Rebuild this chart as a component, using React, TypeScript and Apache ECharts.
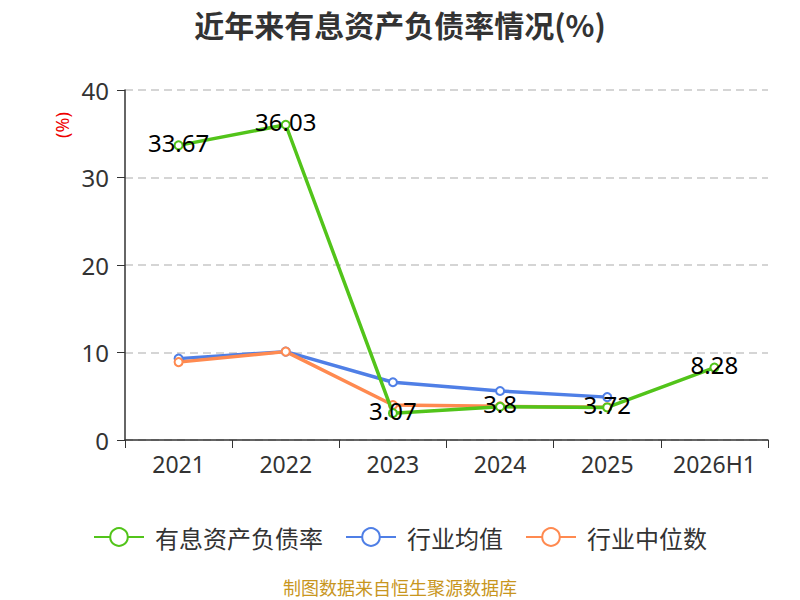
import React, { useEffect, useRef } from "react";
import * as echarts from "echarts";

const categories = ["2021", "2022", "2023", "2024", "2025", "2026H1"];
const debtRatio = [33.67, 36.03, 3.07, 3.8, 3.72, 8.28];
const industryAvg = [9.3, 10.1, 6.6, 5.6, 4.9, null];
const industryMedian = [8.9, 10.1, 4.0, 3.85, 3.75, null];
const seriesNames = ["有息资产负债率", "行业均值", "行业中位数"];

export default function App() {
  const ref = useRef<HTMLDivElement>(null);
  useEffect(() => {
    document.body.style.margin = "0";
    const chart = echarts.init(ref.current!, null, { renderer: "svg" });
    const lineSeries = (name: string, data: any[], color: string, withLabel: boolean) => ({
      name,
      type: "line",
      data,
      symbol: "emptyCircle",
      symbolSize: 8,
      color,
      lineStyle: { width: 3.5, color },
      itemStyle: { color, borderWidth: 1.5 },
      label: withLabel
        ? { show: true, position: "inside", offset: [0, -3], fontSize: 24, color: "#000", fontFamily: "Noto Sans" }
        : { show: false },
      z: withLabel ? 3 : 2,
    });
    chart.setOption({
      animation: false,
      title: {
        text: "近年来有息资产负债率情况(%)",
        left: "center",
        top: 4,
        textStyle: { fontSize: 30, fontWeight: "bold", color: "#333", fontFamily: "Noto Sans CJK SC" },
      },
      grid: { left: 125, right: 32, top: 90, bottom: 160 },
      legend: {
        bottom: 46,
        left: "center",
        itemWidth: 50,
        itemHeight: 22,
        itemGap: 22,
        textStyle: { fontSize: 24, color: "#333", fontFamily: "Noto Sans CJK SC", padding: [0, 0, 0, 6] },
        data: seriesNames,
      },
      xAxis: {
        type: "category",
        data: categories,
        boundaryGap: true,
        axisLine: { lineStyle: { color: "#333", width: 1.5 } },
        axisTick: { show: true, length: 8, lineStyle: { color: "#333" } },
        axisLabel: { fontSize: 23, color: "#333", margin: 12, interval: 0, fontFamily: "Noto Sans" },
      },
      yAxis: {
        type: "value",
        min: 0,
        max: 40,
        interval: 10,
        axisLine: { show: true, lineStyle: { color: "#333", width: 1.5 } },
        axisTick: { show: true, length: 8, lineStyle: { color: "#333" } },
        axisLabel: { fontSize: 24, color: "#333", margin: 16, fontFamily: "Noto Sans" },
        splitLine: { lineStyle: { type: [8, 5], color: "#c8c8c8", width: 1.5 } },
      },
      graphic: [
        {
          type: "text",
          x: 62,
          y: 125,
          rotation: Math.PI / 2,
          style: {
            text: "(%)",
            fill: "#e00",
            fontSize: 18,
            align: "center",
            verticalAlign: "middle",
            fontFamily: "Noto Sans",
          },
        },
        {
          type: "text",
          x: 400,
          y: 587,
          style: {
            text: "制图数据来自恒生聚源数据库",
            fill: "#c8961e",
            fontSize: 18,
            align: "center",
            verticalAlign: "middle",
            fontFamily: "Noto Sans CJK SC",
          },
        },
      ],
      series: [
        lineSeries(seriesNames[0], debtRatio, "#52C41A", true),
        lineSeries(seriesNames[1], industryAvg, "#4F7FE6", false),
        lineSeries(seriesNames[2], industryMedian, "#FF8A50", false),
      ],
    });
    return () => chart.dispose();
  }, []);
  return <div ref={ref} style={{ width: 800, height: 600 }} />;
}
